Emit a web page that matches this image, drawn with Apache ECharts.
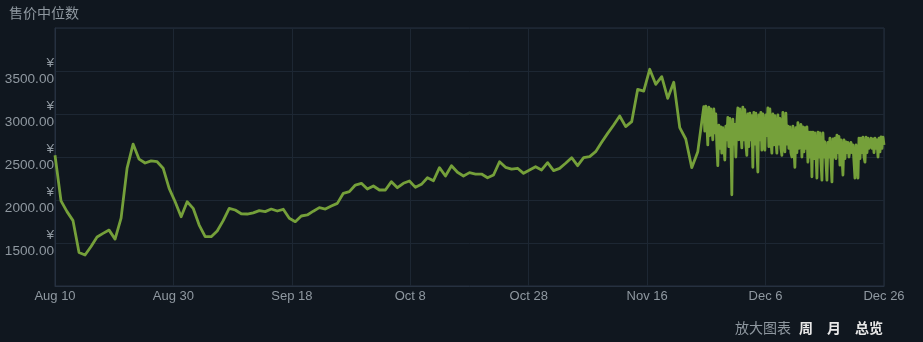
<!DOCTYPE html>
<html>
<head>
<meta charset="utf-8">
<script src="https://cdn.jsdelivr.net/npm/echarts@6/dist/echarts.min.js"></script>
<style>
html,body{margin:0;padding:0;background:#10171f;}
#chart{width:923px;height:342px;}
</style>
</head>
<body>
<div id="chart"></div>
<script>
// ---- data ----
const titleText = '售价中位数';
const xTickLabels = ['Aug 10', 'Aug 30', 'Sep 18', 'Oct 8', 'Oct 28', 'Nov 16', 'Dec 6', 'Dec 26'];
const totalDays = 138; // Aug 10 -> Dec 26
// daily median price, one value per day starting Aug 10
const dailyPrices = [
  2520, 1990, 1865, 1760, 1390, 1360, 1460, 1570, 1612, 1650,
  1545, 1790, 2370, 2650, 2475, 2430, 2455, 2445, 2370, 2136,
  1980, 1806, 1980, 1903, 1709, 1573, 1573, 1640, 1760, 1903,
  1884, 1840, 1837, 1850, 1876, 1865, 1895, 1872, 1892, 1787,
  1748, 1814, 1826, 1870, 1911, 1895, 1930, 1961, 2078, 2097,
  2174, 2194, 2128, 2163, 2116, 2116, 2213, 2143, 2194, 2221,
  2147, 2182, 2259, 2224, 2376, 2279, 2399, 2322, 2279, 2318,
  2302, 2302, 2259, 2291, 2445, 2380, 2360, 2369, 2310, 2349,
  2387, 2349, 2434, 2341, 2368, 2427, 2492, 2399, 2492, 2504,
  2562, 2671, 2775, 2872, 2977, 2853, 2911, 3287, 3267, 3520,
  3345, 3434, 3182, 3369, 2841, 2709, 2376, 2562
];
// recent prices, one value every 4 hours starting right after the daily data
const recentStartDay = 108;
const recentStepDays = 1 / 6;
const recentPrices = [
  3085, 2800, 3090, 2900, 2640, 3080, 2750, 3060, 2850, 2700,
  3060, 2780, 3000, 2650, 2400, 2870, 2600, 2850, 2545, 2840,
  2650, 2465, 2860, 2700, 2960, 2620, 2950, 2750, 2060, 2940,
  2650, 2880, 2500, 2900, 3070, 2700, 3060, 2800, 2605, 3080,
  2700, 3050, 2650, 2520, 3000, 2620, 3010, 2700, 2980, 2380,
  3020, 2650, 3010, 2600, 2325, 2990, 2700, 3020, 2580, 3000,
  2650, 2580, 2990, 2750, 3070, 2620, 3060, 2700, 2545, 3000,
  2640, 2980, 2700, 2545, 2990, 2650, 2950, 2600, 2520, 3020,
  2680, 2560, 3010, 2650, 2860, 2600, 2850, 2550, 2500, 2860,
  2600, 2380, 2840, 2550, 2900, 2600, 2790, 2880, 2500, 2850,
  2560, 2840, 2600, 2850, 2440, 2790, 2500, 2790, 2270, 2790,
  2480, 2780, 2550, 2255, 2790, 2500, 2780, 2450, 2230, 2780,
  2500, 2675, 2450, 2230, 2670, 2500, 2720, 2450, 2210, 2710,
  2500, 2720, 2480, 2755, 2550, 2740, 2405, 2700, 2500, 2290,
  2700, 2480, 2675, 2550, 2670, 2500, 2490, 2670, 2550, 2640,
  2450, 2255, 2640, 2500, 2255, 2720, 2480, 2720, 2550, 2730,
  2500, 2440, 2730, 2550, 2720, 2600, 2640, 2720, 2600, 2710,
  2550, 2720, 2600, 2700, 2500, 2720, 2560, 2735, 2600, 2730,
  2640
];
const buttonLabels = ['周', '月', '总览'];
const zoomLabel = '放大图表';

// ---- build series data ----
const seriesData = [];
dailyPrices.forEach((v, i) => seriesData.push([i, v]));
recentPrices.forEach((v, i) => seriesData.push([recentStartDay + i * recentStepDays, v]));

const FONT = 'Arial, "Liberation Sans", "Noto Sans CJK SC", sans-serif';
const CJK = '"Noto Sans CJK SC", Arial, sans-serif';
const labelColor = '#8f98a0';
const xInterval = totalDays / (xTickLabels.length - 1);

const chart = echarts.init(document.getElementById('chart'), null, {renderer: 'canvas'});
chart.setOption({
  backgroundColor: '#10171f',
  animation: false,
  title: {
    text: titleText,
    left: 9, top: 6, padding: 0,
    textStyle: {color: labelColor, fontSize: 14, fontWeight: 'normal', fontFamily: CJK}
  },
  grid: {
    left: 55, right: 39, top: 28, bottom: 56,
    show: true, borderColor: '#263140', borderWidth: 1, backgroundColor: 'transparent'
  },
  xAxis: {
    type: 'value',
    min: 0, max: totalDays, interval: xInterval,
    axisLine: {show: true, lineStyle: {color: '#263140'}},
    axisTick: {show: false},
    splitLine: {show: true, lineStyle: {color: '#1d2733', width: 1}},
    axisLabel: {
      color: labelColor, fontSize: 13, fontFamily: FONT, margin: 4,
      showMinLabel: true, showMaxLabel: true,
      formatter: v => xTickLabels[Math.round(v / xInterval)] || ''
    }
  },
  yAxis: {
    type: 'value',
    min: 1000, max: 4000, interval: 500,
    axisLine: {show: true, lineStyle: {color: '#263140'}},
    axisTick: {show: false},
    splitLine: {show: true, lineStyle: {color: '#1d2733', width: 1}},
    axisLabel: {
      color: labelColor, fontSize: 13.6, fontFamily: FONT, margin: 1,
      lineHeight: 16, align: 'right',
      showMinLabel: false, showMaxLabel: false,
      formatter: v => '¥\n' + v.toFixed(2)
    }
  },
  series: [{
    type: 'line',
    data: seriesData,
    showSymbol: false,
    symbol: 'none',
    lineStyle: {color: '#75a03a', width: 2.8, join: 'round'},
    itemStyle: {color: '#75a03a'}
  }],
  graphic: [
    {type: 'text', left: 735, top: 321, style: {text: zoomLabel, fill: labelColor, font: '14px ' + CJK}},
    {type: 'text', left: 799, top: 321, style: {text: buttonLabels[0], fill: '#e8e8e8', font: 'bold 14px ' + CJK}},
    {type: 'text', left: 827, top: 321, style: {text: buttonLabels[1], fill: '#e8e8e8', font: 'bold 14px ' + CJK}},
    {type: 'text', left: 855, top: 321, style: {text: buttonLabels[2], fill: '#e8e8e8', font: 'bold 14px ' + CJK}}
  ]
});
</script>
</body>
</html>
